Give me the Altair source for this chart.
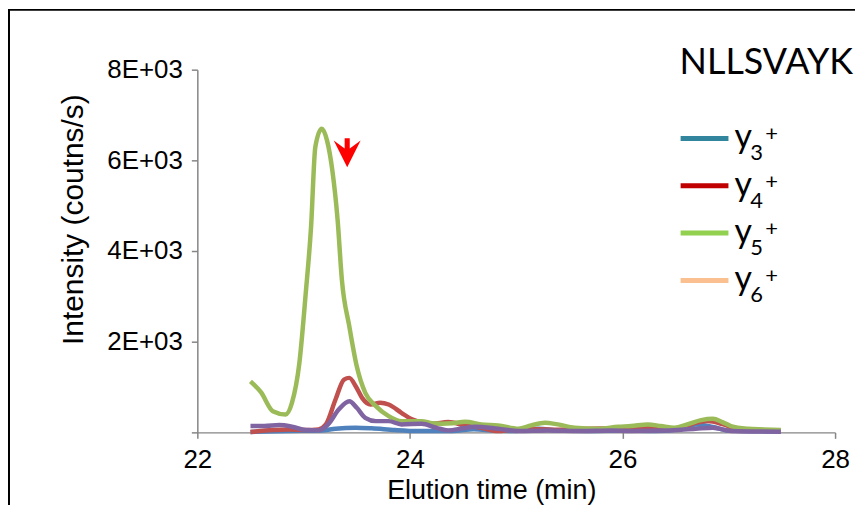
import altair as alt
import pandas as pd

# ---------------- data ----------------
y3_time = [22.50, 22.86, 23.17, 23.30, 23.49, 23.64, 23.86, 24.08, 24.40, 24.60, 24.80, 25.00,
           25.21, 25.40, 25.70, 26.00, 26.30, 26.50, 26.69, 26.85, 27.00, 27.20, 27.49]
y3_int = [10, 30, 40, 81, 103, 90, 51, 30, 30, 70, 40, 30,
          80, 40, 30, 40, 30, 60, 176, 120, 40, 30, 20]

y4_time = [22.50, 22.71, 22.86, 23.02, 23.14, 23.21, 23.30, 23.38, 23.43, 23.49, 23.55, 23.63,
           23.72, 23.80, 23.92, 24.02, 24.21, 24.36, 24.52, 24.67, 24.83, 24.98, 25.20, 25.40,
           25.60, 25.84, 26.05, 26.24, 26.39, 26.55, 26.69, 26.80, 26.95, 27.08, 27.30, 27.49]
y4_int = [7, 51, 66, 51, 66, 176, 725, 1165, 1202, 1018, 762, 615,
          652, 615, 432, 286, 190, 227, 154, 100, 29, 66, 70, 60,
          75, 88, 100, 125, 66, 100, 213, 248, 176, 81, 50, 30]

y5_time = [22.50, 22.60, 22.71, 22.83, 22.89, 22.96, 23.02, 23.07, 23.11, 23.17, 23.22, 23.27,
           23.32, 23.36, 23.43, 23.50, 23.58, 23.68, 23.80, 23.92, 24.02, 24.11, 24.21, 24.30,
           24.40, 24.52, 24.67, 24.83, 25.02, 25.14, 25.27, 25.39, 25.55, 25.77, 25.96, 26.08,
           26.24, 26.36, 26.49, 26.61, 26.74, 26.85, 26.94, 27.02, 27.18, 27.33, 27.49]
y5_int = [1127, 880, 468, 396, 652, 1532, 3070, 4534, 6292, 6697, 6440, 5780,
          4681, 3363, 2336, 1457, 872, 578, 358, 248, 248, 248, 200, 190,
          200, 235, 176, 154, 81, 154, 213, 176, 103, 81, 125, 140,
          176, 140, 103, 176, 271, 300, 227, 140, 81, 66, 51]

y6_time = [22.50, 22.63, 22.77, 22.89, 23.02, 23.14, 23.23, 23.33, 23.43, 23.50, 23.58, 23.68,
           23.80, 23.92, 24.11, 24.25, 24.36, 24.50, 24.61, 24.83, 25.02, 25.30, 25.60, 25.90,
           26.08, 26.40, 26.69, 26.85, 27.02, 27.25, 27.49]
y6_int = [139, 139, 161, 125, 51, 44, 176, 505, 688, 542, 322, 248,
          248, 176, 190, 100, 44, 90, 125, 81, 30, 40, 30, 40,
          30, 40, 81, 100, 30, 20, 15]

x_ticks = [22, 24, 26, 28]
y_ticks = [0, 2000, 4000, 6000, 8000]

legend_subs = ["3", "4", "5", "6"]
legend_colors = ["#31859C", "#C00000", "#92D050", "#FAC090"]
line_colors = ["#4F81BD", "#C0504D", "#9BBB59", "#8064A2"]

arrow_time = [23.41]
arrow_int = [6165]

peptide = "NLLSVAYK"

# ---------------- chart ----------------
AX = "#868686"
FONT = "Liberation Sans"

x_enc = alt.X("time:Q",
              scale=alt.Scale(domain=[22, 28], nice=False),
              axis=alt.Axis(values=x_ticks, format="d", title="Elution time (min)", grid=False,
                            labelFlush=False,
                            domainColor=AX, domainWidth=1.5, tickColor=AX, tickWidth=1.5, tickSize=6,
                            labelFont=FONT, labelFontSize=26, labelColor="black", labelPadding=8,
                            titleFont=FONT, titleFontSize=27, titleFontWeight="normal", titleColor="black",
                            titleX=295, titleY=66, titleBaseline="alphabetic", titleAlign="center"))
y_enc = alt.Y("intensity:Q",
              scale=alt.Scale(domain=[0, 8000], nice=False),
              axis=alt.Axis(values=y_ticks, title="Intensity (coutns/s)", grid=False,
                            labelFlush=False,
                            labelExpr="datum.value == 0 ? '' : (datum.value / 1000) + 'E+03'",
                            domainColor=AX, domainWidth=1.5, tickColor=AX, tickWidth=1.5, tickSize=6,
                            labelFont=FONT, labelFontSize=26, labelColor="black", labelPadding=9,
                            titleFont=FONT, titleFontSize=30, titleFontWeight="normal", titleColor="black",
                            titleAngle=270, titleX=-115, titleY=150, titleBaseline="alphabetic",
                            titleAlign="center"))

layers = []
dummy = pd.DataFrame({"a": [0]})

# frame around the whole figure
layers.append(alt.Chart(dummy).mark_rule(color="black", strokeWidth=2).encode(
    x=alt.value(-190), x2=alt.value(660), y=alt.value(-60)))
layers.append(alt.Chart(dummy).mark_rule(color="black", strokeWidth=2).encode(
    x=alt.value(-189), y=alt.value(-61), y2=alt.value(440)))

series = [(y3_time, y3_int), (y4_time, y4_int), (y5_time, y5_int), (y6_time, y6_int)]
for (t, v), col in zip(series, line_colors):
    df = pd.DataFrame({"time": t, "intensity": v})
    layers.append(alt.Chart(df).mark_line(color=col, strokeWidth=4.5, interpolate="monotone",
                                          strokeJoin="round").encode(x=x_enc, y=y_enc))

arrow_path = "M-0.17,-0.97 L0.17,-0.97 L0.17,-0.3 L0.9,-0.83 L0,0.97 L-0.9,-0.83 L-0.17,-0.3 Z"
layers.append(alt.Chart(pd.DataFrame({"time": arrow_time, "intensity": arrow_int}))
              .mark_point(shape=arrow_path, size=900, filled=True, color="#FF0000", opacity=1, strokeWidth=0)
              .encode(x=x_enc, y=y_enc))

# peptide label
layers.append(alt.Chart(dummy).mark_text(text=peptide, font="Lato", fontSize=36, align="left",
                                         baseline="alphabetic", color="black").encode(
    x=alt.value(484), y=alt.value(4)))

# manual legend
LEG_Y0 = 69
LEG_STEP = 47.5
for i, (sub, col) in enumerate(zip(legend_subs, legend_colors)):
    yy = LEG_Y0 + i * LEG_STEP
    layers.append(alt.Chart(dummy).mark_rule(color=col, strokeWidth=5).encode(
        x=alt.value(485), x2=alt.value(533), y=alt.value(yy)))
    layers.append(alt.Chart(dummy).mark_text(text="y", font="Lato", fontSize=34, align="left",
                                             baseline="alphabetic", color="black").encode(
        x=alt.value(539), y=alt.value(yy + 10)))
    layers.append(alt.Chart(dummy).mark_text(text=sub, font="Lato", fontSize=22, align="left",
                                             baseline="alphabetic", color="black").encode(
        x=alt.value(555), y=alt.value(yy + 22)))
    layers.append(alt.Chart(dummy).mark_text(text="+", font="Lato", fontSize=22, align="left",
                                             baseline="alphabetic", color="black").encode(
        x=alt.value(570), y=alt.value(yy + 3)))

chart = alt.layer(*layers).properties(
    width=640, height=364,
    background="white",
    autosize=alt.AutoSizeParams(type="none"),
    padding={"left": 190, "top": 61, "right": 20, "bottom": 72},
).configure_view(stroke="transparent", strokeWidth=0)

chart.save("out.html", embed_options={"renderer": "svg", "actions": False})
